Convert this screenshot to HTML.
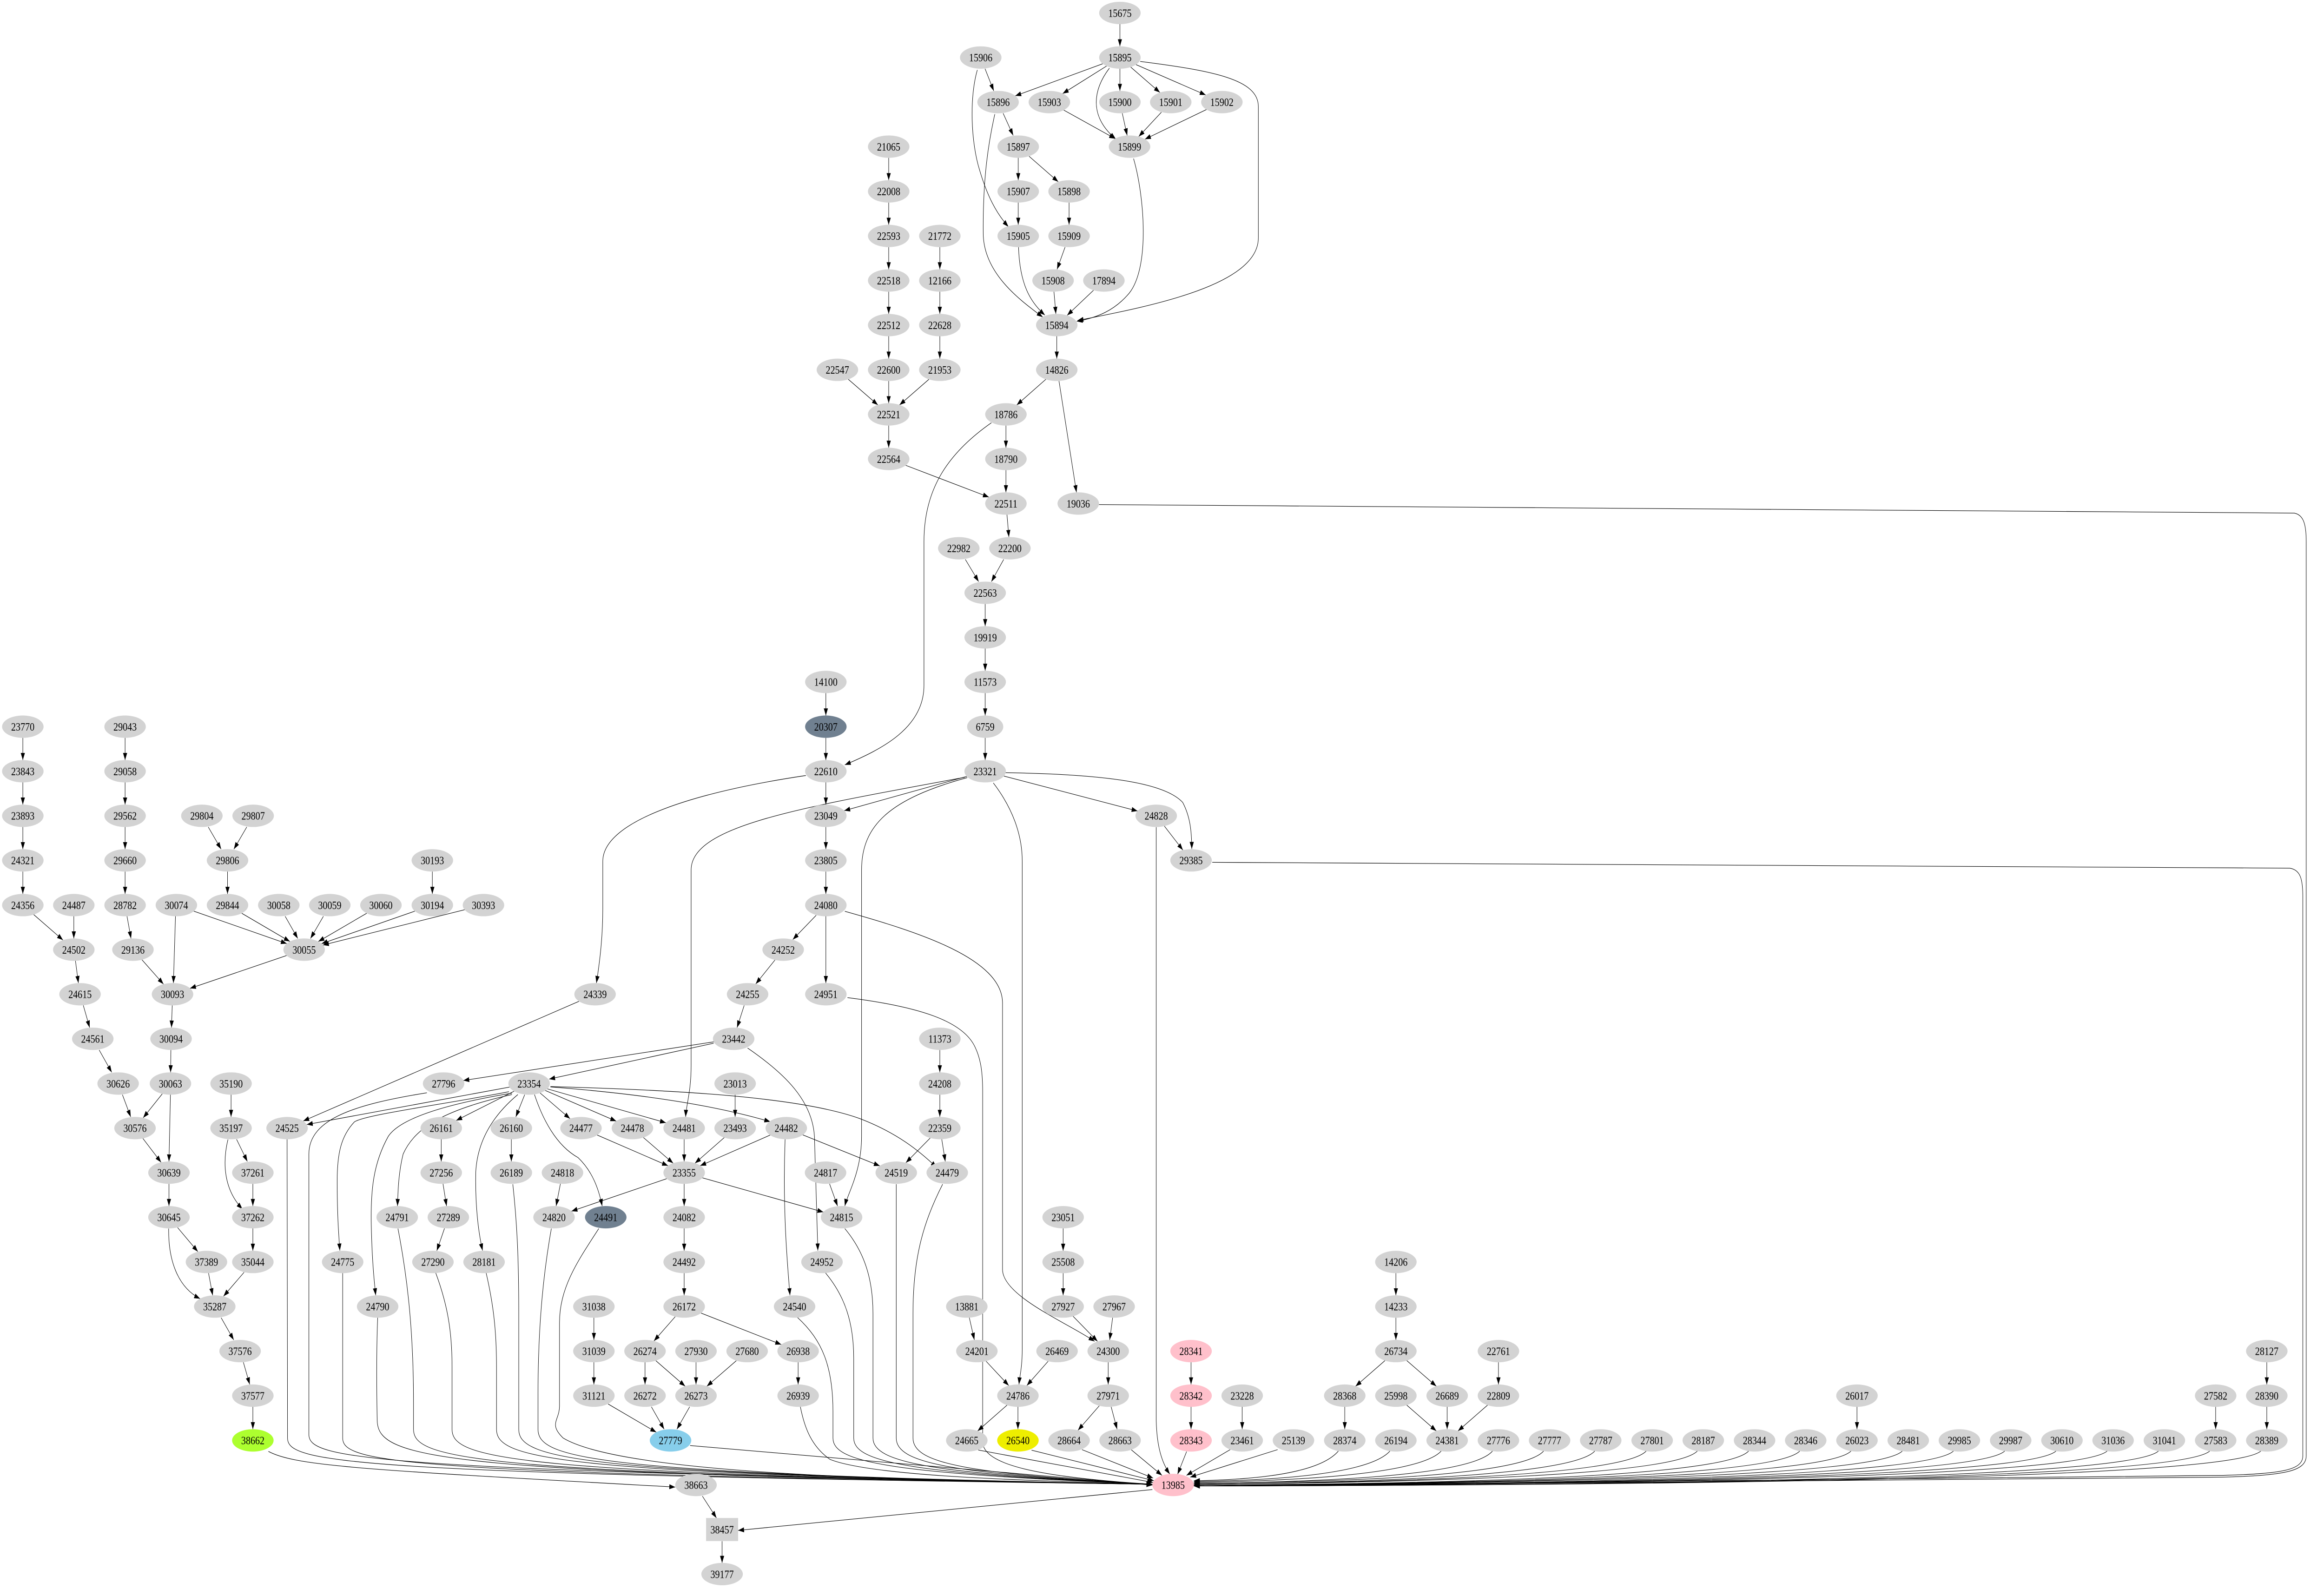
<!DOCTYPE html>
<html><head><meta charset="utf-8"><style>
html,body{margin:0;padding:0;background:#fff;width:100%;height:100%;overflow:hidden;}
svg{display:block;width:100vw;height:100vh;}
ellipse{fill:#d3d3d3;}
text{font-family:"Liberation Serif",serif;font-size:6.3px;text-anchor:middle;fill:#000;}
path{fill:none;stroke:#000;stroke-width:0.3;}
</style></head><body>
<svg viewBox="0 0 1568 895" preserveAspectRatio="none" xmlns="http://www.w3.org/2000/svg">
<defs><marker id="a" viewBox="0 0 10 7" refX="10" refY="3.5" markerUnits="userSpaceOnUse" markerWidth="4" markerHeight="2.8" orient="auto"><path d="M0,0L10,3.5L0,7z" style="fill:#000;stroke:none"/></marker></defs>
<g marker-end="url(#a)">
<path d="M755.6 13.6L755.6 26.1"/>
<path d="M744 35.9L685 54"/>
<path d="M746.6 37.2L717 52.7"/>
<path d="M755.6 38.7L755.6 51.2"/>
<path d="M762.9 37.8L782.6 52.1"/>
<path d="M766.5 36.4L813.5 53.5"/>
<path d="M748.5 38.4C738 50 734 65 752.8 78.3"/>
<path d="M769.3 34.6C820 40 849 45 849 60L849 134C849 160 780 172 727 180.5"/>
<path d="M664.6 38.7L670.5 51.2"/>
<path d="M659.4 39.4C654 55 655 80 661 96C666 110 672 120 680.4 127.7"/>
<path d="M676.8 63.8L683.6 76.3"/>
<path d="M671.2 64.3C667 80 663 100 663.4 132C664 155 690 170 703.5 178.6"/>
<path d="M717.7 62L752.4 78.1"/>
<path d="M757.2 63.8L760.5 76.3"/>
<path d="M783.6 63.2L768.3 76.9"/>
<path d="M814 61.7L772.5 78.4"/>
<path d="M764.8 89.3C772 110 776 150 762 165C752 175 740 179 726.5 181"/>
<path d="M687 88.9L687 101.5"/>
<path d="M694.3 88L714 102.4"/>
<path d="M687 114.1L687 126.6"/>
<path d="M721.3 114.1L721.3 126.6"/>
<path d="M718.6 139.2L713.2 151.7"/>
<path d="M687.2 139.2C688 160 695 170 705 177.5"/>
<path d="M711.1 164.3L712.4 176.8"/>
<path d="M737.8 163.5L720 177.6"/>
<path d="M713 189.4L713 202"/>
<path d="M705.7 213.6L686 228.1"/>
<path d="M714.5 214.6L726.3 277.3"/>
<path d="M678.7 239.7L678.7 252.2"/>
<path d="M678.7 264.8L678.7 277.3"/>
<path d="M611.1 262.1L667.2 280"/>
<path d="M599.6 88.9L599.6 101.5"/>
<path d="M599.6 114.1L599.6 126.6"/>
<path d="M599.6 139.2L599.6 151.7"/>
<path d="M599.6 164.3L599.6 176.8"/>
<path d="M599.6 189.4L599.6 202"/>
<path d="M599.6 214.6L599.6 227.1"/>
<path d="M599.6 239.7L599.6 252.2"/>
<path d="M634.1 139.2L634.1 151.7"/>
<path d="M634.1 164.3L634.1 176.8"/>
<path d="M634.1 189.4L634.1 202"/>
<path d="M572.3 213.6L592.3 228.1"/>
<path d="M626.8 213.6L606.9 228.1"/>
<path d="M668.9 238.1C640 255 623.4 275 623.4 305L623.4 386C623.4 410 595 422 570 430.8"/>
<path d="M679.4 289.9L680.7 302.5"/>
<path d="M651.3 315.1L660.3 327.6"/>
<path d="M677.2 315.1L668.9 327.6"/>
<path d="M664.7 340.2L664.7 352.7"/>
<path d="M664.7 365.3L664.7 377.8"/>
<path d="M664.7 390.4L664.7 403"/>
<path d="M664.7 415.6L664.7 428.1"/>
<path d="M557.2 390.4L557.2 403"/>
<path d="M557.2 415.6L557.2 428.1"/>
<path d="M557.2 440.7L557.2 453.2"/>
<path d="M557.2 465.8L557.2 478.3"/>
<path d="M557.2 490.9L557.2 503.5"/>
<path d="M652.3 437.3L569.6 456.6"/>
<path d="M677.3 437.1L767.5 456.8"/>
<path d="M678.2 435.2C740 436 785 440 798 452C803 460 804 468 804.1 478.2"/>
<path d="M785.6 465.3L798.1 478.8"/>
<path d="M780.1 465.9L780.1 800C780.5 815 784 824 789.3 830.3"/>
<path d="M817.9 485.7L1545 489C1552 490 1553.7 495 1553.7 505L1553.7 820C1553.7 828 1540 830 1500 831L805.5 837"/>
<path d="M741.5 284.2L1548 289C1554 290 1556 295 1556 305L1556 820C1556 829 1540 831 1500 832L805.5 837"/>
<path d="M543.7 436.8C470 446 407 462 406.7 485L406.7 512C406.7 530 404 545 402.4 553.7"/>
<path d="M650.9 437.8C540 455 466.3 465 466.3 490L466.3 600C466.3 615 463 622 462.6 629.1"/>
<path d="M652.6 438C600 450 581.3 465 581.3 490L581.3 640C581.3 660 572 672 570 679.3"/>
<path d="M670.2 441C683 455 689.7 470 689.7 485L689.7 760C689.7 770 688 775 687.5 779.8"/>
<path d="M570 513.3C620 525 676.4 540 676.4 565L676.4 715C676.4 730 720 745 738.5 755.5"/>
<path d="M550.7 515.5L534.9 529.2"/>
<path d="M557.2 516.1L557.2 553.7"/>
<path d="M522.9 540.7L509.9 554.2"/>
<path d="M502.1 566.3L497.3 578.8"/>
<path d="M571.8 561.9C620 567 650 575 658 590C662 597 663 605 663 615L663 812C663 825 700 832 777.5 836"/>
<path d="M15.4 415.6L15.4 428.1"/>
<path d="M15.4 440.7L15.4 453.2"/>
<path d="M15.4 465.8L15.4 478.3"/>
<path d="M15.4 490.9L15.4 503.5"/>
<path d="M84.4 415.6L84.4 428.1"/>
<path d="M84.4 440.7L84.4 453.2"/>
<path d="M84.4 465.8L84.4 478.3"/>
<path d="M84.4 490.9L84.4 503.5"/>
<path d="M22.7 515.1L42.5 529.5"/>
<path d="M49.8 516.1L49.8 528.6"/>
<path d="M50.9 541.2L52.9 553.7"/>
<path d="M56.2 566.3L60.5 578.8"/>
<path d="M66.9 591.4L75.4 604"/>
<path d="M82.6 616.6L88.2 629.1"/>
<path d="M96.4 641.2L108.7 654.7"/>
<path d="M114 666.8L114 679.3"/>
<path d="M119.8 691.4L133.5 705"/>
<path d="M113.8 692C113.5 710 120 725 135 731.5"/>
<path d="M140.7 717.1L143.5 729.6"/>
<path d="M164.7 716.6L150.8 730.1"/>
<path d="M149.2 742.2L157.7 754.7"/>
<path d="M164.2 767.3L168.5 779.8"/>
<path d="M170.6 792.4L170.6 805"/>
<path d="M181.1 817.5C200 826 250 828 455.6 837.6"/>
<path d="M85.7 516.1L88.4 528.6"/>
<path d="M95.8 540.6L110.3 554.3"/>
<path d="M118.4 516.1L117 553.7"/>
<path d="M130.7 513.2L193.5 531.5"/>
<path d="M140.5 465.8L149.2 478.3"/>
<path d="M166.5 465.8L157.8 478.3"/>
<path d="M153.5 490.9L153.5 503.5"/>
<path d="M163.1 514.4L195.6 530.3"/>
<path d="M192.4 516.1L200.9 528.6"/>
<path d="M218.2 516.1L209.5 528.6"/>
<path d="M247.4 514.4L214.8 530.3"/>
<path d="M291.7 490.9L291.7 503.5"/>
<path d="M279.9 513.2L217 531.5"/>
<path d="M313.5 512.4L217.9 532.3"/>
<path d="M193.4 538.2L128.2 556.7"/>
<path d="M116.2 566.3L115.7 578.8"/>
<path d="M115.3 591.4L115.1 604"/>
<path d="M109.5 616.1L96.6 629.6"/>
<path d="M115 616.6L114 654.2"/>
<path d="M155.9 616.6L155.9 629.1"/>
<path d="M159.6 641.7L166.9 654.2"/>
<path d="M153.8 641.8C150 655 151 670 163.6 681"/>
<path d="M170.6 666.8L170.6 679.3"/>
<path d="M170.6 691.9L170.6 704.5"/>
<path d="M481.7 586.8L312.6 608.6"/>
<path d="M481.5 587.6L370.5 607.8"/>
<path d="M504.4 590.3C530 605 548 620 549.5 640L551.8 704.4"/>
<path d="M390.6 564L204.6 631.4"/>
<path d="M343.8 612.3L207 633.4"/>
<path d="M346.9 614.6L307.8 631.1"/>
<path d="M354 616.6L348 629.1"/>
<path d="M364.4 615.6L384.6 630.1"/>
<path d="M367.9 614.2L415.8 631.5"/>
<path d="M369.3 613.3L449.3 632.4"/>
<path d="M371.4 612.2C430 616 480 622 519.7 631.8"/>
<path d="M371.4 612C460 614 540 618 580 630C605 638 620 648 632 657.6"/>
<path d="M360.6 616.5C366 630 375 645 390 652C400 660 404 670 406.3 679.3"/>
<path d="M343.4 614.9C300 622 245 628 239 632C230 640 227.5 650 227.5 665C227.5 685 228.5 695 229.3 704.4"/>
<path d="M345.4 615.7C300 622 270 630 262 640C252 655 250 670 250.5 690C251 710 252.5 722 253.5 729.6"/>
<path d="M345.4 616.5C300 625 280 635 272 650C269 660 268.5 670 268.2 679.3"/>
<path d="M349.4 616.5C330 630 322 645 321 660C320.5 680 323 695 325.6 704.4"/>
<path d="M297.7 641.7L297.7 654.2"/>
<path d="M298.9 666.8L301.3 679.3"/>
<path d="M299.9 691.9L294.7 704.5"/>
<path d="M345 641.7L345 654.2"/>
<path d="M402.9 639.3L450.7 656.6"/>
<path d="M434.1 640.7L454.2 655.2"/>
<path d="M461.6 641.7L461.6 654.2"/>
<path d="M488.7 640.7L468.9 655.2"/>
<path d="M519.7 639.3L472.4 656.6"/>
<path d="M496 616.6L496 629.1"/>
<path d="M541.6 639.2L593.6 656.7"/>
<path d="M529.7 641.7C528 680 531 710 533 729.6"/>
<path d="M634.1 616.6L634.1 629.1"/>
<path d="M634.1 591.4L634.1 604"/>
<path d="M627.6 641L611.2 654.9"/>
<path d="M635.4 641.7L637.8 654.2"/>
<path d="M449.8 663.9L385.6 682.2"/>
<path d="M461.6 666.8L461.6 679.3"/>
<path d="M473.9 663.4L555.5 682.7"/>
<path d="M378.1 666.8L375.2 679.3"/>
<path d="M559.7 666.8L565.1 679.3"/>
<path d="M461.6 691.9L461.6 704.5"/>
<path d="M461.6 717.1L461.6 729.6"/>
<path d="M455.6 741.6L441.2 755.3"/>
<path d="M473 739.6L527.1 757.3"/>
<path d="M400.7 742.2L400.7 754.7"/>
<path d="M400.7 767.3L400.7 779.8"/>
<path d="M435.2 767.3L435.2 779.8"/>
<path d="M442.5 766.4L462.3 780.8"/>
<path d="M469.6 767.3L469.6 779.8"/>
<path d="M496.8 766.4L476.9 780.8"/>
<path d="M538.5 767.3L538.5 779.8"/>
<path d="M410.3 790.8L442.8 806.7"/>
<path d="M439.5 792.4L448.1 805"/>
<path d="M465.3 792.4L456.7 805"/>
<path d="M465.6 814.2L777.5 836.5"/>
<path d="M717.3 691.9L717.3 704.5"/>
<path d="M717.3 717.1L717.3 729.6"/>
<path d="M724 741.4L740.5 755.5"/>
<path d="M750.7 742.2L748.7 754.7"/>
<path d="M747.7 767.3L747.7 779.8"/>
<path d="M741.7 791.8L727.3 805.6"/>
<path d="M749.7 792.4L753.7 805"/>
<path d="M654 742.2L657.4 754.7"/>
<path d="M665.3 766.7L680.6 780.4"/>
<path d="M707.2 766.7L692.8 780.4"/>
<path d="M679.5 791.4L659.6 806"/>
<path d="M686.8 792.4L686.8 805"/>
<path d="M777.5 839L498 862"/>
<path d="M473.9 842.7L483.4 855"/>
<path d="M487.2 868.1L487.2 880.3"/>
<path d="M941.8 717.1L941.8 729.6"/>
<path d="M941.8 742.2L941.8 754.7"/>
<path d="M934.5 766.3L914.6 780.8"/>
<path d="M949.1 766.3L969.1 780.8"/>
<path d="M1011 767.3L1011 779.8"/>
<path d="M907.3 792.4L907.3 805"/>
<path d="M949.1 791.4L969.1 806"/>
<path d="M976.4 792.4L976.4 805"/>
<path d="M1003.7 791.4L983.7 806"/>
<path d="M803.6 767.3L803.6 779.8"/>
<path d="M803.6 792.4L803.6 805"/>
<path d="M838.1 792.4L838.1 805"/>
<path d="M1252.9 792.4L1252.9 805"/>
<path d="M1494.9 792.4L1494.9 805"/>
<path d="M1529.4 767.3L1529.4 779.8"/>
<path d="M1529.4 792.4L1529.4 805"/>
<path d="M800.6 817.6L794.5 830.4"/>
<path d="M763.3 816.6L784 831"/>
<path d="M730 816.5L778 832.5"/>
<path d="M696 816.8L778.5 834"/>
<path d="M660 816.7L778 835"/>
<path d="M830 816.5L800.5 831"/>
<path d="M862 816.5L803 832"/>
<path d="M903 817.3Q887 833 805.5 834"/>
<path d="M937.8 817.3Q921 833 805.5 834.5"/>
<path d="M972.4 817.3Q955 833 805.5 835"/>
<path d="M1007 817.3Q990 834 805.5 835.5"/>
<path d="M1041.5 817.3Q1024 834 805.5 835.5"/>
<path d="M1076 817.3Q1058 834 805.5 836"/>
<path d="M1110.7 817.3Q1092 834 805.5 836"/>
<path d="M1145.2 817.3Q1126 834 805.5 836"/>
<path d="M1179.8 817.3Q1160 835 805.5 836.5"/>
<path d="M1214.3 817.3Q1194 835 805.5 836.5"/>
<path d="M1248.9 817.3Q1228 835 805.5 836.5"/>
<path d="M1283.5 817.3Q1262 835 805.5 836.5"/>
<path d="M1318 817.3Q1296 835 805.5 837"/>
<path d="M1352.6 817.3Q1330 835 805.5 837"/>
<path d="M1387.2 817.3Q1364 835 805.5 837"/>
<path d="M1421.7 817.3Q1398 835 805.5 837"/>
<path d="M1456.3 817.3Q1432 836 805.5 837"/>
<path d="M1490.9 817.3Q1466 836 805.5 837"/>
<path d="M1525.4 817.3Q1500 836 805.5 837"/>
<path d="M193.7 641.7L194 810C194 824 234 830 777.5 836"/>
<path d="M288 615.5C240 622 208.4 630 208.4 650L208.4 808C208.4 822 248 828 777.5 836"/>
<path d="M231.2 717.1L231.2 810C231.2 824 271 830 777.5 836"/>
<path d="M254.8 742.2C254 760 254 780 254.5 800C255 822 295 830 777.5 836"/>
<path d="M268.5 692C275 720 279 750 279 790L279 805C279 822 319 830 777.5 836"/>
<path d="M294 717C302 735 305 750 305 770L305 805C305 822 345 830 777.5 836"/>
<path d="M328 717C333 735 335 750 335 770L335 805C335 822 375 830 777.5 836"/>
<path d="M346 667C349 690 350 710 350 740L350 805C350 822 390 830 777.5 836"/>
<path d="M372 692C366 720 363 750 363 785L363 805C363 822 403 830 777.5 836"/>
<path d="M404 692C390 710 377.5 725 377.5 745L377.5 792C377.5 800 370 802 380 810C420 830 600 834 777.5 836"/>
<path d="M540 792.4C543 805 548 815 560 822C590 832 700 834 777.5 836"/>
<path d="M538 742C555 755 562 770 562 795L562 810C562 824 602 830 777.5 836"/>
<path d="M557 717C570 730 576 745 576 765L576 810C576 824 616 830 777.5 836"/>
<path d="M570 692C583 705 589 720 589 740L589 810C589 824 629 830 777.5 836"/>
<path d="M604.7 667C604.7 700 604.7 750 604.7 780L604.7 810C604.7 824 640 830 777.5 836"/>
<path d="M636 667C622 690 616 710 616 740L616 810C616 824 650 830 777.5 836"/>
</g>
<ellipse cx="755.6" cy="7.3" rx="14" ry="6.3"/><text x="755.6" y="9.5">15675</text>
<ellipse cx="755.6" cy="32.4" rx="14" ry="6.3"/><text x="755.6" y="34.6">15895</text>
<ellipse cx="661.7" cy="32.4" rx="14" ry="6.3"/><text x="661.7" y="34.6">15906</text>
<ellipse cx="673.4" cy="57.5" rx="14" ry="6.3"/><text x="673.4" y="59.7">15896</text>
<ellipse cx="708" cy="57.5" rx="14" ry="6.3"/><text x="708" y="59.7">15903</text>
<ellipse cx="755.6" cy="57.5" rx="14" ry="6.3"/><text x="755.6" y="59.7">15900</text>
<ellipse cx="789.9" cy="57.5" rx="14" ry="6.3"/><text x="789.9" y="59.7">15901</text>
<ellipse cx="824.4" cy="57.5" rx="14" ry="6.3"/><text x="824.4" y="59.7">15902</text>
<ellipse cx="599.6" cy="82.6" rx="14" ry="6.3"/><text x="599.6" y="84.8">21065</text>
<ellipse cx="687" cy="82.6" rx="14" ry="6.3"/><text x="687" y="84.8">15897</text>
<ellipse cx="762.1" cy="82.6" rx="14" ry="6.3"/><text x="762.1" y="84.8">15899</text>
<ellipse cx="599.6" cy="107.8" rx="14" ry="6.3"/><text x="599.6" y="110">22008</text>
<ellipse cx="687" cy="107.8" rx="14" ry="6.3"/><text x="687" y="110">15907</text>
<ellipse cx="721.3" cy="107.8" rx="14" ry="6.3"/><text x="721.3" y="110">15898</text>
<ellipse cx="599.6" cy="132.9" rx="14" ry="6.3"/><text x="599.6" y="135.1">22593</text>
<ellipse cx="634.1" cy="132.9" rx="14" ry="6.3"/><text x="634.1" y="135.1">21772</text>
<ellipse cx="687" cy="132.9" rx="14" ry="6.3"/><text x="687" y="135.1">15905</text>
<ellipse cx="721.3" cy="132.9" rx="14" ry="6.3"/><text x="721.3" y="135.1">15909</text>
<ellipse cx="599.6" cy="158" rx="14" ry="6.3"/><text x="599.6" y="160.2">22518</text>
<ellipse cx="634.1" cy="158" rx="14" ry="6.3"/><text x="634.1" y="160.2">12166</text>
<ellipse cx="710.5" cy="158" rx="14" ry="6.3"/><text x="710.5" y="160.2">15908</text>
<ellipse cx="744.8" cy="158" rx="14" ry="6.3"/><text x="744.8" y="160.2">17894</text>
<ellipse cx="599.6" cy="183.1" rx="14" ry="6.3"/><text x="599.6" y="185.3">22512</text>
<ellipse cx="634.1" cy="183.1" rx="14" ry="6.3"/><text x="634.1" y="185.3">22628</text>
<ellipse cx="713" cy="183.1" rx="14" ry="6.3"/><text x="713" y="185.3">15894</text>
<ellipse cx="565" cy="208.3" rx="14" ry="6.3"/><text x="565" y="210.5">22547</text>
<ellipse cx="599.6" cy="208.3" rx="14" ry="6.3"/><text x="599.6" y="210.5">22600</text>
<ellipse cx="634.1" cy="208.3" rx="14" ry="6.3"/><text x="634.1" y="210.5">21953</text>
<ellipse cx="713" cy="208.3" rx="14" ry="6.3"/><text x="713" y="210.5">14826</text>
<ellipse cx="599.6" cy="233.4" rx="14" ry="6.3"/><text x="599.6" y="235.6">22521</text>
<ellipse cx="678.7" cy="233.4" rx="14" ry="6.3"/><text x="678.7" y="235.6">18786</text>
<ellipse cx="599.6" cy="258.5" rx="14" ry="6.3"/><text x="599.6" y="260.7">22564</text>
<ellipse cx="678.7" cy="258.5" rx="14" ry="6.3"/><text x="678.7" y="260.7">18790</text>
<ellipse cx="678.7" cy="283.6" rx="14" ry="6.3"/><text x="678.7" y="285.8">22511</text>
<ellipse cx="727.5" cy="283.6" rx="14" ry="6.3"/><text x="727.5" y="285.8">19036</text>
<ellipse cx="646.9" cy="308.8" rx="14" ry="6.3"/><text x="646.9" y="311">22982</text>
<ellipse cx="681.4" cy="308.8" rx="14" ry="6.3"/><text x="681.4" y="311">22200</text>
<ellipse cx="664.7" cy="333.9" rx="14" ry="6.3"/><text x="664.7" y="336.1">22563</text>
<ellipse cx="664.7" cy="359" rx="14" ry="6.3"/><text x="664.7" y="361.2">19919</text>
<ellipse cx="557.2" cy="384.1" rx="14" ry="6.3"/><text x="557.2" y="386.3">14100</text>
<ellipse cx="664.7" cy="384.1" rx="14" ry="6.3"/><text x="664.7" y="386.3">11573</text>
<ellipse cx="557.2" cy="409.3" rx="14" ry="6.3" style="fill:#708090"/><text x="557.2" y="411.5">20307</text>
<ellipse cx="664.7" cy="409.3" rx="12.2" ry="6.3"/><text x="664.7" y="411.5">6759</text>
<ellipse cx="15.4" cy="409.3" rx="14" ry="6.3"/><text x="15.4" y="411.5">23770</text>
<ellipse cx="84.4" cy="409.3" rx="14" ry="6.3"/><text x="84.4" y="411.5">29043</text>
<ellipse cx="557.2" cy="434.4" rx="14" ry="6.3"/><text x="557.2" y="436.6">22610</text>
<ellipse cx="664.7" cy="434.4" rx="14" ry="6.3"/><text x="664.7" y="436.6">23321</text>
<ellipse cx="15.4" cy="434.4" rx="14" ry="6.3"/><text x="15.4" y="436.6">23843</text>
<ellipse cx="84.4" cy="434.4" rx="14" ry="6.3"/><text x="84.4" y="436.6">29058</text>
<ellipse cx="557.2" cy="459.5" rx="14" ry="6.3"/><text x="557.2" y="461.7">23049</text>
<ellipse cx="780.1" cy="459.5" rx="14" ry="6.3"/><text x="780.1" y="461.7">24828</text>
<ellipse cx="15.4" cy="459.5" rx="14" ry="6.3"/><text x="15.4" y="461.7">23893</text>
<ellipse cx="84.4" cy="459.5" rx="14" ry="6.3"/><text x="84.4" y="461.7">29562</text>
<ellipse cx="136.2" cy="459.5" rx="14" ry="6.3"/><text x="136.2" y="461.7">29804</text>
<ellipse cx="170.8" cy="459.5" rx="14" ry="6.3"/><text x="170.8" y="461.7">29807</text>
<ellipse cx="557.2" cy="484.6" rx="14" ry="6.3"/><text x="557.2" y="486.8">23805</text>
<ellipse cx="803.6" cy="484.6" rx="14" ry="6.3"/><text x="803.6" y="486.8">29385</text>
<ellipse cx="15.4" cy="484.6" rx="14" ry="6.3"/><text x="15.4" y="486.8">24321</text>
<ellipse cx="84.4" cy="484.6" rx="14" ry="6.3"/><text x="84.4" y="486.8">29660</text>
<ellipse cx="153.5" cy="484.6" rx="14" ry="6.3"/><text x="153.5" y="486.8">29806</text>
<ellipse cx="291.7" cy="484.6" rx="14" ry="6.3"/><text x="291.7" y="486.8">30193</text>
<ellipse cx="557.2" cy="509.8" rx="14" ry="6.3"/><text x="557.2" y="512">24080</text>
<ellipse cx="15.4" cy="509.8" rx="14" ry="6.3"/><text x="15.4" y="512">24356</text>
<ellipse cx="49.8" cy="509.8" rx="14" ry="6.3"/><text x="49.8" y="512">24487</text>
<ellipse cx="84.4" cy="509.8" rx="14" ry="6.3"/><text x="84.4" y="512">28782</text>
<ellipse cx="119" cy="509.8" rx="14" ry="6.3"/><text x="119" y="512">30074</text>
<ellipse cx="153.5" cy="509.8" rx="14" ry="6.3"/><text x="153.5" y="512">29844</text>
<ellipse cx="188.1" cy="509.8" rx="14" ry="6.3"/><text x="188.1" y="512">30058</text>
<ellipse cx="222.5" cy="509.8" rx="14" ry="6.3"/><text x="222.5" y="512">30059</text>
<ellipse cx="257" cy="509.8" rx="14" ry="6.3"/><text x="257" y="512">30060</text>
<ellipse cx="291.7" cy="509.8" rx="14" ry="6.3"/><text x="291.7" y="512">30194</text>
<ellipse cx="326.2" cy="509.8" rx="14" ry="6.3"/><text x="326.2" y="512">30393</text>
<ellipse cx="528.4" cy="534.9" rx="14" ry="6.3"/><text x="528.4" y="537.1">24252</text>
<ellipse cx="49.8" cy="534.9" rx="14" ry="6.3"/><text x="49.8" y="537.1">24502</text>
<ellipse cx="89.7" cy="534.9" rx="14" ry="6.3"/><text x="89.7" y="537.1">29136</text>
<ellipse cx="205.2" cy="534.9" rx="14" ry="6.3"/><text x="205.2" y="537.1">30055</text>
<ellipse cx="504.4" cy="560" rx="14" ry="6.3"/><text x="504.4" y="562.2">24255</text>
<ellipse cx="557.2" cy="560" rx="14" ry="6.3"/><text x="557.2" y="562.2">24951</text>
<ellipse cx="401.5" cy="560" rx="14" ry="6.3"/><text x="401.5" y="562.2">24339</text>
<ellipse cx="54" cy="560" rx="14" ry="6.3"/><text x="54" y="562.2">24615</text>
<ellipse cx="116.4" cy="560" rx="14" ry="6.3"/><text x="116.4" y="562.2">30093</text>
<ellipse cx="495" cy="585.1" rx="14" ry="6.3"/><text x="495" y="587.3">23442</text>
<ellipse cx="634.1" cy="585.1" rx="14" ry="6.3"/><text x="634.1" y="587.3">11373</text>
<ellipse cx="62.6" cy="585.1" rx="14" ry="6.3"/><text x="62.6" y="587.3">24561</text>
<ellipse cx="115.4" cy="585.1" rx="14" ry="6.3"/><text x="115.4" y="587.3">30094</text>
<ellipse cx="79.7" cy="610.3" rx="14" ry="6.3"/><text x="79.7" y="612.5">30626</text>
<ellipse cx="115" cy="610.3" rx="14" ry="6.3"/><text x="115" y="612.5">30063</text>
<ellipse cx="155.9" cy="610.3" rx="14" ry="6.3"/><text x="155.9" y="612.5">35190</text>
<ellipse cx="299.3" cy="610.3" rx="14" ry="6.3"/><text x="299.3" y="612.5">27796</text>
<ellipse cx="357" cy="610.3" rx="14" ry="6.3"/><text x="357" y="612.5">23354</text>
<ellipse cx="496" cy="610.3" rx="14" ry="6.3"/><text x="496" y="612.5">23013</text>
<ellipse cx="634.1" cy="610.3" rx="14" ry="6.3"/><text x="634.1" y="612.5">24208</text>
<ellipse cx="91.1" cy="635.4" rx="14" ry="6.3"/><text x="91.1" y="637.6">30576</text>
<ellipse cx="155.9" cy="635.4" rx="14" ry="6.3"/><text x="155.9" y="637.6">35197</text>
<ellipse cx="193.7" cy="635.4" rx="14" ry="6.3"/><text x="193.7" y="637.6">24525</text>
<ellipse cx="297.7" cy="635.4" rx="14" ry="6.3"/><text x="297.7" y="637.6">26161</text>
<ellipse cx="345" cy="635.4" rx="14" ry="6.3"/><text x="345" y="637.6">26160</text>
<ellipse cx="392" cy="635.4" rx="14" ry="6.3"/><text x="392" y="637.6">24477</text>
<ellipse cx="426.7" cy="635.4" rx="14" ry="6.3"/><text x="426.7" y="637.6">24478</text>
<ellipse cx="461.6" cy="635.4" rx="14" ry="6.3"/><text x="461.6" y="637.6">24481</text>
<ellipse cx="496" cy="635.4" rx="14" ry="6.3"/><text x="496" y="637.6">23493</text>
<ellipse cx="530.5" cy="635.4" rx="14" ry="6.3"/><text x="530.5" y="637.6">24482</text>
<ellipse cx="634.1" cy="635.4" rx="14" ry="6.3"/><text x="634.1" y="637.6">22359</text>
<ellipse cx="114" cy="660.5" rx="14" ry="6.3"/><text x="114" y="662.7">30639</text>
<ellipse cx="170.6" cy="660.5" rx="14" ry="6.3"/><text x="170.6" y="662.7">37261</text>
<ellipse cx="297.7" cy="660.5" rx="14" ry="6.3"/><text x="297.7" y="662.7">27256</text>
<ellipse cx="345" cy="660.5" rx="14" ry="6.3"/><text x="345" y="662.7">26189</text>
<ellipse cx="379.5" cy="660.5" rx="14" ry="6.3"/><text x="379.5" y="662.7">24818</text>
<ellipse cx="461.6" cy="660.5" rx="14" ry="6.3"/><text x="461.6" y="662.7">23355</text>
<ellipse cx="557" cy="660.5" rx="14" ry="6.3"/><text x="557" y="662.7">24817</text>
<ellipse cx="604.7" cy="660.5" rx="14" ry="6.3"/><text x="604.7" y="662.7">24519</text>
<ellipse cx="639.1" cy="660.5" rx="14" ry="6.3"/><text x="639.1" y="662.7">24479</text>
<ellipse cx="114" cy="685.6" rx="14" ry="6.3"/><text x="114" y="687.8">30645</text>
<ellipse cx="170.6" cy="685.6" rx="14" ry="6.3"/><text x="170.6" y="687.8">37262</text>
<ellipse cx="268" cy="685.6" rx="14" ry="6.3"/><text x="268" y="687.8">24791</text>
<ellipse cx="302.5" cy="685.6" rx="14" ry="6.3"/><text x="302.5" y="687.8">27289</text>
<ellipse cx="373.8" cy="685.6" rx="14" ry="6.3"/><text x="373.8" y="687.8">24820</text>
<ellipse cx="408.7" cy="685.6" rx="14" ry="6.3" style="fill:#708090"/><text x="408.7" y="687.8">24491</text>
<ellipse cx="461.6" cy="685.6" rx="14" ry="6.3"/><text x="461.6" y="687.8">24082</text>
<ellipse cx="567.8" cy="685.6" rx="14" ry="6.3"/><text x="567.8" y="687.8">24815</text>
<ellipse cx="717.3" cy="685.6" rx="14" ry="6.3"/><text x="717.3" y="687.8">23051</text>
<ellipse cx="139.3" cy="710.8" rx="14" ry="6.3"/><text x="139.3" y="713">37389</text>
<ellipse cx="170.6" cy="710.8" rx="14" ry="6.3"/><text x="170.6" y="713">35044</text>
<ellipse cx="231.2" cy="710.8" rx="14" ry="6.3"/><text x="231.2" y="713">24775</text>
<ellipse cx="292.1" cy="710.8" rx="14" ry="6.3"/><text x="292.1" y="713">27290</text>
<ellipse cx="326.6" cy="710.8" rx="14" ry="6.3"/><text x="326.6" y="713">28181</text>
<ellipse cx="461.6" cy="710.8" rx="14" ry="6.3"/><text x="461.6" y="713">24492</text>
<ellipse cx="554.6" cy="710.8" rx="14" ry="6.3"/><text x="554.6" y="713">24952</text>
<ellipse cx="717.3" cy="710.8" rx="14" ry="6.3"/><text x="717.3" y="713">25508</text>
<ellipse cx="941.8" cy="710.8" rx="14" ry="6.3"/><text x="941.8" y="713">14206</text>
<ellipse cx="144.9" cy="735.9" rx="14" ry="6.3"/><text x="144.9" y="738.1">35287</text>
<ellipse cx="254.8" cy="735.9" rx="14" ry="6.3"/><text x="254.8" y="738.1">24790</text>
<ellipse cx="400.7" cy="735.9" rx="14" ry="6.3"/><text x="400.7" y="738.1">31038</text>
<ellipse cx="461.6" cy="735.9" rx="14" ry="6.3"/><text x="461.6" y="738.1">26172</text>
<ellipse cx="536.1" cy="735.9" rx="14" ry="6.3"/><text x="536.1" y="738.1">24540</text>
<ellipse cx="652.3" cy="735.9" rx="14" ry="6.3"/><text x="652.3" y="738.1">13881</text>
<ellipse cx="717.3" cy="735.9" rx="14" ry="6.3"/><text x="717.3" y="738.1">27927</text>
<ellipse cx="751.7" cy="735.9" rx="14" ry="6.3"/><text x="751.7" y="738.1">27967</text>
<ellipse cx="941.8" cy="735.9" rx="14" ry="6.3"/><text x="941.8" y="738.1">14233</text>
<ellipse cx="162" cy="761" rx="14" ry="6.3"/><text x="162" y="763.2">37576</text>
<ellipse cx="400.7" cy="761" rx="14" ry="6.3"/><text x="400.7" y="763.2">31039</text>
<ellipse cx="435.2" cy="761" rx="14" ry="6.3"/><text x="435.2" y="763.2">26274</text>
<ellipse cx="469.6" cy="761" rx="14" ry="6.3"/><text x="469.6" y="763.2">27930</text>
<ellipse cx="504.1" cy="761" rx="14" ry="6.3"/><text x="504.1" y="763.2">27680</text>
<ellipse cx="538.5" cy="761" rx="14" ry="6.3"/><text x="538.5" y="763.2">26938</text>
<ellipse cx="659.1" cy="761" rx="14" ry="6.3"/><text x="659.1" y="763.2">24201</text>
<ellipse cx="713.2" cy="761" rx="14" ry="6.3"/><text x="713.2" y="763.2">26469</text>
<ellipse cx="747.7" cy="761" rx="14" ry="6.3"/><text x="747.7" y="763.2">24300</text>
<ellipse cx="803.6" cy="761" rx="14" ry="6.3" style="fill:#ffc0cb"/><text x="803.6" y="763.2">28341</text>
<ellipse cx="941.8" cy="761" rx="14" ry="6.3"/><text x="941.8" y="763.2">26734</text>
<ellipse cx="1011" cy="761" rx="14" ry="6.3"/><text x="1011" y="763.2">22761</text>
<ellipse cx="1529.4" cy="761" rx="14" ry="6.3"/><text x="1529.4" y="763.2">28127</text>
<ellipse cx="170.6" cy="786.1" rx="14" ry="6.3"/><text x="170.6" y="788.3">37577</text>
<ellipse cx="400.7" cy="786.1" rx="14" ry="6.3"/><text x="400.7" y="788.3">31121</text>
<ellipse cx="435.2" cy="786.1" rx="14" ry="6.3"/><text x="435.2" y="788.3">26272</text>
<ellipse cx="469.6" cy="786.1" rx="14" ry="6.3"/><text x="469.6" y="788.3">26273</text>
<ellipse cx="538.5" cy="786.1" rx="14" ry="6.3"/><text x="538.5" y="788.3">26939</text>
<ellipse cx="686.8" cy="786.1" rx="14" ry="6.3"/><text x="686.8" y="788.3">24786</text>
<ellipse cx="747.7" cy="786.1" rx="14" ry="6.3"/><text x="747.7" y="788.3">27971</text>
<ellipse cx="803.6" cy="786.1" rx="14" ry="6.3" style="fill:#ffc0cb"/><text x="803.6" y="788.3">28342</text>
<ellipse cx="838.1" cy="786.1" rx="14" ry="6.3"/><text x="838.1" y="788.3">23228</text>
<ellipse cx="907.3" cy="786.1" rx="14" ry="6.3"/><text x="907.3" y="788.3">28368</text>
<ellipse cx="941.8" cy="786.1" rx="14" ry="6.3"/><text x="941.8" y="788.3">25998</text>
<ellipse cx="976.4" cy="786.1" rx="14" ry="6.3"/><text x="976.4" y="788.3">26689</text>
<ellipse cx="1011" cy="786.1" rx="14" ry="6.3"/><text x="1011" y="788.3">22809</text>
<ellipse cx="1252.9" cy="786.1" rx="14" ry="6.3"/><text x="1252.9" y="788.3">26017</text>
<ellipse cx="1494.9" cy="786.1" rx="14" ry="6.3"/><text x="1494.9" y="788.3">27582</text>
<ellipse cx="1529.4" cy="786.1" rx="14" ry="6.3"/><text x="1529.4" y="788.3">28390</text>
<ellipse cx="170.6" cy="811.3" rx="14" ry="6.3" style="fill:#adff2f"/><text x="170.6" y="813.5">38662</text>
<ellipse cx="452.4" cy="811.3" rx="14" ry="6.3" style="fill:#87ceeb"/><text x="452.4" y="813.5">27779</text>
<ellipse cx="652.3" cy="811.3" rx="14" ry="6.3"/><text x="652.3" y="813.5">24665</text>
<ellipse cx="686.8" cy="811.3" rx="14" ry="6.3" style="fill:#eeee00"/><text x="686.8" y="813.5">26540</text>
<ellipse cx="721.3" cy="811.3" rx="14" ry="6.3"/><text x="721.3" y="813.5">28664</text>
<ellipse cx="755.7" cy="811.3" rx="14" ry="6.3"/><text x="755.7" y="813.5">28663</text>
<ellipse cx="803.6" cy="811.3" rx="14" ry="6.3" style="fill:#ffc0cb"/><text x="803.6" y="813.5">28343</text>
<ellipse cx="838.1" cy="811.3" rx="14" ry="6.3"/><text x="838.1" y="813.5">23461</text>
<ellipse cx="872.7" cy="811.3" rx="14" ry="6.3"/><text x="872.7" y="813.5">25139</text>
<ellipse cx="907.3" cy="811.3" rx="14" ry="6.3"/><text x="907.3" y="813.5">28374</text>
<ellipse cx="941.8" cy="811.3" rx="14" ry="6.3"/><text x="941.8" y="813.5">26194</text>
<ellipse cx="976.4" cy="811.3" rx="14" ry="6.3"/><text x="976.4" y="813.5">24381</text>
<ellipse cx="1011" cy="811.3" rx="14" ry="6.3"/><text x="1011" y="813.5">27776</text>
<ellipse cx="1045.5" cy="811.3" rx="14" ry="6.3"/><text x="1045.5" y="813.5">27777</text>
<ellipse cx="1080" cy="811.3" rx="14" ry="6.3"/><text x="1080" y="813.5">27787</text>
<ellipse cx="1114.7" cy="811.3" rx="14" ry="6.3"/><text x="1114.7" y="813.5">27801</text>
<ellipse cx="1149.2" cy="811.3" rx="14" ry="6.3"/><text x="1149.2" y="813.5">28187</text>
<ellipse cx="1183.8" cy="811.3" rx="14" ry="6.3"/><text x="1183.8" y="813.5">28344</text>
<ellipse cx="1218.3" cy="811.3" rx="14" ry="6.3"/><text x="1218.3" y="813.5">28346</text>
<ellipse cx="1252.9" cy="811.3" rx="14" ry="6.3"/><text x="1252.9" y="813.5">26023</text>
<ellipse cx="1287.5" cy="811.3" rx="14" ry="6.3"/><text x="1287.5" y="813.5">28481</text>
<ellipse cx="1322" cy="811.3" rx="14" ry="6.3"/><text x="1322" y="813.5">29985</text>
<ellipse cx="1356.6" cy="811.3" rx="14" ry="6.3"/><text x="1356.6" y="813.5">29987</text>
<ellipse cx="1391.2" cy="811.3" rx="14" ry="6.3"/><text x="1391.2" y="813.5">30610</text>
<ellipse cx="1425.7" cy="811.3" rx="14" ry="6.3"/><text x="1425.7" y="813.5">31036</text>
<ellipse cx="1460.3" cy="811.3" rx="14" ry="6.3"/><text x="1460.3" y="813.5">31041</text>
<ellipse cx="1494.9" cy="811.3" rx="14" ry="6.3"/><text x="1494.9" y="813.5">27583</text>
<ellipse cx="1529.4" cy="811.3" rx="14" ry="6.3"/><text x="1529.4" y="813.5">28389</text>
<ellipse cx="469.6" cy="836.4" rx="14" ry="6.3"/><text x="469.6" y="838.6">38663</text>
<ellipse cx="791.5" cy="836.4" rx="14" ry="6.3" style="fill:#ffc0cb"/><text x="791.5" y="838.6">13985</text>
<rect x="476.4" y="855" width="21.6" height="13" style="fill:#d3d3d3"/><text x="487.2" y="863.7">38457</text>
<ellipse cx="487.2" cy="886.6" rx="14" ry="6.3"/><text x="487.2" y="888.8">39177</text>
</svg>
</body></html>
